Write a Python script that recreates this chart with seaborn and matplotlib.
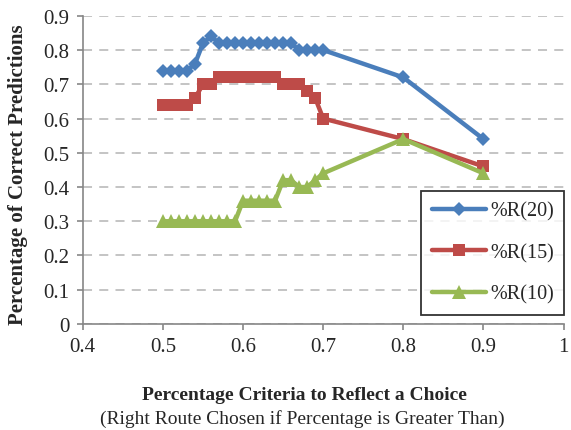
import seaborn as sns
import numpy as np
import pandas as pd
import matplotlib.pyplot as plt

# Criteria thresholds (x axis)
criteria = [0.50, 0.51, 0.52, 0.53, 0.54, 0.55, 0.56, 0.57, 0.58, 0.59,
            0.60, 0.61, 0.62, 0.63, 0.64, 0.65, 0.66, 0.67, 0.68, 0.69,
            0.70, 0.80, 0.90]

r20 = [0.74, 0.74, 0.74, 0.74, 0.76, 0.82, 0.84, 0.82, 0.82, 0.82,
       0.82, 0.82, 0.82, 0.82, 0.82, 0.82, 0.82, 0.80, 0.80, 0.80,
       0.80, 0.72, 0.54]
r15 = [0.64, 0.64, 0.64, 0.64, 0.66, 0.70, 0.70, 0.72, 0.72, 0.72,
       0.72, 0.72, 0.72, 0.72, 0.72, 0.70, 0.70, 0.70, 0.68, 0.66,
       0.60, 0.54, 0.46]
r10 = [0.30, 0.30, 0.30, 0.30, 0.30, 0.30, 0.30, 0.30, 0.30, 0.30,
       0.36, 0.36, 0.36, 0.36, 0.36, 0.42, 0.42, 0.40, 0.40, 0.42,
       0.44, 0.54, 0.44]

series_names = ["%R(20)", "%R(15)", "%R(10)"]
series_vals = [r20, r15, r10]
colors = ["#4A7EBB", "#BE4B48", "#98B954"]
markers = ["D", "s", "^"]
msizes = [7.5, 9, 9.5]

sns.set_style("white")
plt.rcParams["font.family"] = ["Liberation Serif", "DejaVu Serif"]

fig = plt.figure(figsize=(5.71, 4.31), dpi=100)
ax = fig.add_axes([0.145, 0.246, 0.842, 0.715])

for name, vals, c, m, ms in zip(series_names, series_vals, colors, markers, msizes):
    df = pd.DataFrame({"x": criteria, "y": vals})
    sns.lineplot(data=df, x="x", y="y", ax=ax, color=c, lw=3.2, marker=m,
                 markersize=ms, markeredgewidth=0, label=name, sort=False)

ax.set_xlim(0.4, 1.0)
ax.set_ylim(0, 0.9)
ax.set_xticks(np.arange(0.4, 1.01, 0.1))
ax.set_xticklabels(["0.4", "0.5", "0.6", "0.7", "0.8", "0.9", "1"])
ax.set_yticks(np.arange(0, 0.91, 0.1))
ax.set_yticklabels(["0"] + [f"{v:.1f}" for v in np.arange(0.1, 0.91, 0.1)])

ax.yaxis.grid(True, color="#BFBFBF", linestyle=(0, (5, 4)), lw=1.3)
ax.xaxis.grid(False)
for side in ["top", "right"]:
    ax.spines[side].set_visible(False)
for side in ["left", "bottom"]:
    ax.spines[side].set_color("#868686")
    ax.spines[side].set_linewidth(1.2)
ax.tick_params(axis="both", which="both", length=4.5, width=1.2, color="#868686",
               direction="out", labelsize=15, left=True, bottom=True, pad=5)

ax.set_xlabel("Percentage Criteria to Reflect a Choice", fontsize=14,
              fontweight="bold")
ax.xaxis.set_label_coords(0.46, -0.2)
fig.text(0.53, 0.028, "(Right Route Chosen if Percentage is Greater Than)",
         ha="center", va="center", fontsize=14)
ax.set_ylabel("Percentage of Correct Predictions", fontsize=15,
              fontweight="bold")
ax.yaxis.set_label_coords(-0.135, 0.487)
ax.yaxis.label.set_va("center")

leg = ax.legend(loc="lower left", bbox_to_anchor=(0.703, 0.03, 0.297, 0.39),
                mode="expand", fontsize=14.5, frameon=True, fancybox=False,
                handlelength=2.7, labelspacing=1.1, borderpad=0.55,
                borderaxespad=0, handletextpad=0.2)
leg.get_frame().set_edgecolor("black")
leg.get_frame().set_linewidth(1.3)

fig.savefig("out.png", dpi=100)
